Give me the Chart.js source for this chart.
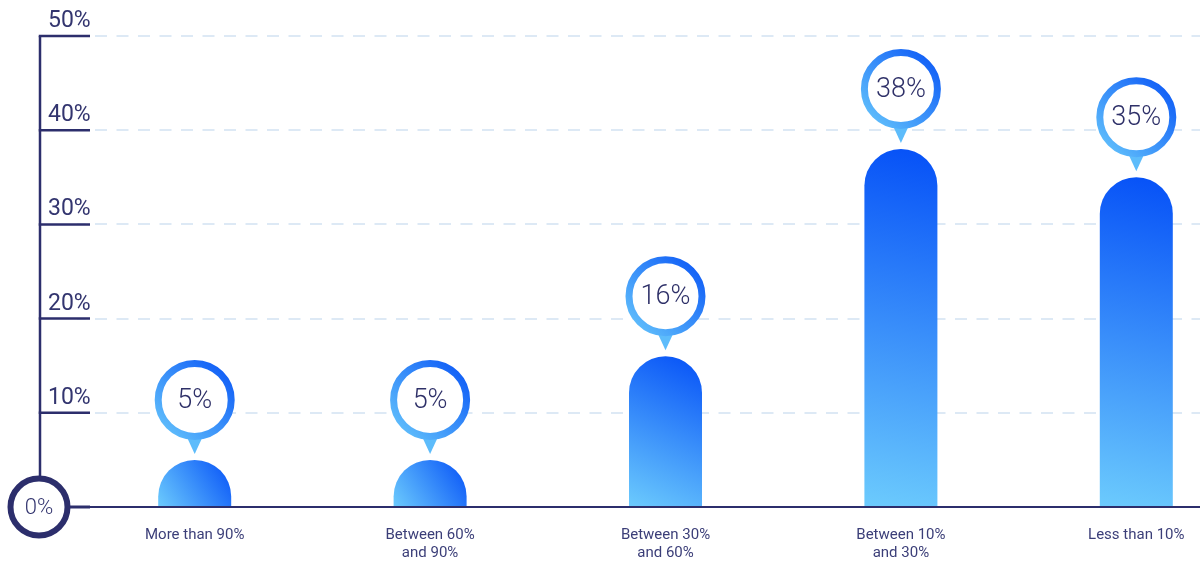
<!DOCTYPE html>
<html>
<head>
<meta charset="utf-8">
<script src="https://cdn.jsdelivr.net/npm/chart.js@4.4.1/dist/chart.umd.min.js"></script>
<style>
  html, body { margin: 0; padding: 0; background: #fff; overflow: hidden; }
  #wrap { width: 1256px; height: 566px; position: relative; }
</style>
</head>
<body>
<div id="wrap"><canvas id="chart"></canvas></div>
<script>
const categories = [
  "More than 90%",
  ["Between 60%", "and 90%"],
  ["Between 30%", "and 60%"],
  ["Between 10%", "and 30%"],
  "Less than 10%",
];
const shares = [5, 5, 16, 38, 35];
const yTicks = [0, 10, 20, 30, 40, 50];

const NAVY = "#2c2e6c";
const TEXT = "#33356f";
const AXIS_X = 40;

// rounded-top bars, axis decorations and the value bubbles
const decor = {
  id: "decor",
  afterDatasetsDraw(chart) {
    const ctx = chart.ctx;
    const y = chart.scales.y;
    const meta = chart.getDatasetMeta(0);
    const right = chart.width;
    const base = y.getPixelForValue(0);

    // bars
    meta.data.forEach((bar) => {
      const { x, y: top, width } = bar.getProps(["x", "y", "width"]);
      const r = width / 2;
      const g = ctx.createLinearGradient(x - r, base, x + r, top);
      g.addColorStop(0, "#6ccbfd");
      g.addColorStop(1, "#0550f7");
      ctx.save();
      ctx.fillStyle = g;
      ctx.beginPath();
      ctx.moveTo(x - r, base);
      ctx.lineTo(x - r, top + r);
      ctx.arc(x, top + r, r, Math.PI, 0);
      ctx.lineTo(x + r, base);
      ctx.closePath();
      ctx.fill();
      ctx.restore();
    });

    ctx.save();
    ctx.strokeStyle = NAVY;
    ctx.lineCap = "butt";

    // tick segments + labels
    ctx.font = "400 23px Roboto";
    ctx.fillStyle = TEXT;
    ctx.textAlign = "left";
    ctx.textBaseline = "alphabetic";
    yTicks.forEach((v) => {
      if (v === 0) return;
      const py = y.getPixelForValue(v);
      ctx.lineWidth = 2.5;
      ctx.beginPath();
      ctx.moveTo(AXIS_X - 1.25, py);
      ctx.lineTo(90, py);
      ctx.stroke();
      ctx.fillText(v + "%", 48, py - 9);
    });

    // vertical axis
    const r0 = 28.5;
    ctx.lineWidth = 2.5;
    ctx.beginPath();
    ctx.moveTo(AXIS_X, y.getPixelForValue(50));
    ctx.lineTo(AXIS_X, base - r0);
    ctx.stroke();

    // baseline
    ctx.lineWidth = 3;
    ctx.beginPath();
    ctx.moveTo(AXIS_X + r0, base);
    ctx.lineTo(90, base);
    ctx.stroke();
    ctx.lineWidth = 2.2;
    ctx.beginPath();
    ctx.moveTo(90, base);
    ctx.lineTo(right, base);
    ctx.stroke();

    // zero circle
    ctx.lineWidth = 6;
    ctx.fillStyle = "#fff";
    ctx.beginPath();
    ctx.arc(AXIS_X - 1, base, r0, 0, Math.PI * 2);
    ctx.fill();
    ctx.stroke();
    ctx.fillStyle = TEXT;
    ctx.font = "300 22px Roboto";
    ctx.textAlign = "center";
    ctx.textBaseline = "middle";
    ctx.fillText("0%", AXIS_X - 1, base + 1);
    ctx.restore();

    // value bubbles
    meta.data.forEach((bar, i) => {
      const { x, y: top } = bar.getProps(["x", "y"]);
      const cx = x;
      const cy = top - 60;
      const R = 36.5;
      ctx.save();
      ctx.fillStyle = "#5dbcfb";
      ctx.beginPath();
      ctx.moveTo(cx - 9, cy + R - 2);
      ctx.lineTo(cx + 9, cy + R - 2);
      ctx.lineTo(cx, cy + 54);
      ctx.closePath();
      ctx.fill();

      const g = ctx.createLinearGradient(cx - R, cy + R, cx + R, cy - R);
      g.addColorStop(0, "#66c6fc");
      g.addColorStop(1, "#0a56f6");
      ctx.fillStyle = "#fff";
      ctx.strokeStyle = g;
      ctx.lineWidth = 7;
      ctx.beginPath();
      ctx.arc(cx, cy, R, 0, Math.PI * 2);
      ctx.fill();
      ctx.stroke();

      ctx.fillStyle = "#2e3068";
      ctx.font = "300 27px Roboto";
      ctx.textAlign = "center";
      ctx.textBaseline = "middle";
      ctx.fillText(shares[i] + "%", cx, cy + 1);
      ctx.restore();
    });
  },
};

new Chart(document.getElementById("chart"), {
  type: "bar",
  data: {
    labels: categories,
    datasets: [
      {
        data: shares,
        backgroundColor: "rgba(0,0,0,0)",
        barThickness: 73,
      },
    ],
  },
  options: {
    responsive: true,
    maintainAspectRatio: false,
    animation: false,
    layout: { padding: { left: 77, right: 2, top: 36, bottom: 0 } },
    plugins: {
      legend: { display: false },
      tooltip: { enabled: false },
    },
    scales: {
      x: {
        grid: { display: false, drawTicks: false },
        border: { display: false },
        ticks: {
          autoSkip: false,
          maxRotation: 0,
          padding: 19,
          color: "#3b3e78",
          font: { family: "Roboto", size: 15, lineHeight: 18 / 15 },
        },
        afterFit: (scale) => {
          scale.height = 59;
        },
      },
      y: {
        min: 0,
        max: 50,
        ticks: { display: false, stepSize: 10 },
        grid: { color: "#dde9f5", lineWidth: 2, drawTicks: false },
        border: { display: false, dash: [12, 9.5], dashOffset: 3.5 },
      },
    },
  },
  plugins: [decor],
});
</script>
</body>
</html>
